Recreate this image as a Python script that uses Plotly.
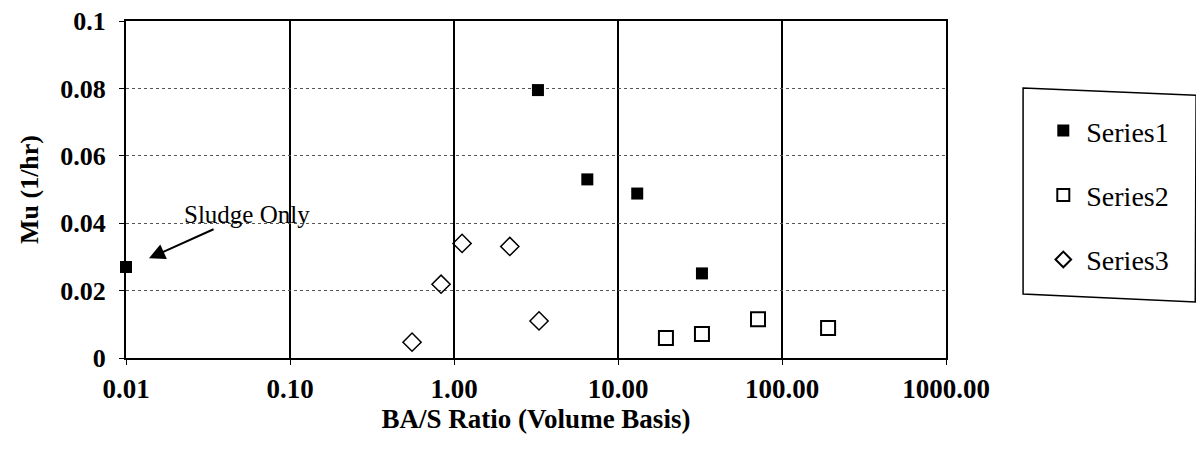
import plotly.graph_objects as go

# values
s1_x = [0.01, 3.25, 6.5, 13.1, 32.5]
s1_y = [0.027, 0.0795, 0.053, 0.0488, 0.0251]

s2_x = [19.6, 32.5, 71.4, 191]
s2_y = [0.0059, 0.0071, 0.0115, 0.0089]

s3_x = [0.555, 0.834, 1.12, 2.19, 3.3]
s3_y = [0.0047, 0.0219, 0.034, 0.0331, 0.011]

x_ticks = [0.01, 0.1, 1, 10, 100, 1000]
x_tick_text = ["0.01", "0.10", "1.00", "10.00", "100.00", "1000.00"]
y_ticks = [0, 0.02, 0.04, 0.06, 0.08, 0.1]
y_tick_text = ["0", "0.02", "0.04", "0.06", "0.08", "0.1"]

FONT = "Liberation Serif"

fig = go.Figure()
fig.add_trace(go.Scatter(x=s1_x, y=s1_y, mode="markers", name="Series1",
                         legendgroup="a", cliponaxis=False,
                         marker=dict(symbol="square", size=12, color="black")))
fig.add_trace(go.Scatter(x=s2_x, y=s2_y, mode="markers", name="Series2",
                         legendgroup="b", cliponaxis=False,
                         marker=dict(symbol="square-open", size=14, color="black",
                                     line=dict(width=2))))
fig.add_trace(go.Scatter(x=s3_x, y=s3_y, mode="markers", name="Series3",
                         legendgroup="c", cliponaxis=False,
                         marker=dict(symbol="diamond-open", size=14, color="black",
                                     line=dict(width=1.5))))

fig.add_annotation(x=-1.86, y=0.0296, xref="x", yref="y",
                   text="Sludge Only", showarrow=True,
                   ax=98, ay=-44, arrowhead=2, arrowsize=1.6, arrowwidth=2,
                   arrowcolor="black",
                   font=dict(family=FONT, size=25, color="black"))

# legend frame (slightly skewed like the scanned original)
fig.add_shape(type="path", xref="paper", yref="paper",
              path="M 1.094 0.801 L 1.305 0.780 L 1.304 0.166 L 1.094 0.190 Z",
              line=dict(color="black", width=1.5), fillcolor="rgba(0,0,0,0)")

fig.update_xaxes(type="log", range=[-2, 3], automargin=False,
                 tickvals=x_ticks, ticktext=["<b>%s</b>" % t for t in x_tick_text],
                 showgrid=True, gridcolor="black", gridwidth=2,
                 showline=True, linecolor="black", linewidth=2, mirror=True,
                 ticks="outside", ticklen=5, tickcolor="black",
                 zeroline=False, ticklabelstandoff=1,
                 tickfont=dict(family=FONT, size=27, color="black"),
                 title=dict(text="<b>BA/S Ratio (Volume Basis)</b>",
                            font=dict(family=FONT, size=27, color="black"),
                            standoff=0))
fig.update_yaxes(range=[0, 0.1], automargin=False,
                 tickvals=y_ticks, ticktext=["<b>%s</b>" % t for t in y_tick_text],
                 showgrid=True, gridcolor="#555555", gridwidth=1, griddash="dot",
                 showline=True, linecolor="black", linewidth=2, mirror=True,
                 ticks="outside", ticklen=5, tickcolor="black",
                 zeroline=False, ticklabelstandoff=8, ticklabeloverflow="allow",
                 tickfont=dict(family=FONT, size=26, color="black"),
                 title=dict(text="<b>Mu (1/hr)</b>",
                            font=dict(family=FONT, size=26, color="black"),
                            standoff=14))

# the page body adds 8px on the top and left, so margins are shifted to match
fig.update_layout(
    width=1204, height=453,
    margin=dict(l=118, r=266, t=13, b=103),
    paper_bgcolor="white", plot_bgcolor="white",
    font=dict(family=FONT, color="black"),
    showlegend=True,
    legend=dict(x=1.115, y=0.748, xanchor="left", yanchor="top",
                borderwidth=0, bgcolor="rgba(0,0,0,0)",
                font=dict(family=FONT, size=28, color="black"),
                tracegroupgap=25, itemsizing="constant",
                itemwidth=36),
)

fig.write_html("out.html")
